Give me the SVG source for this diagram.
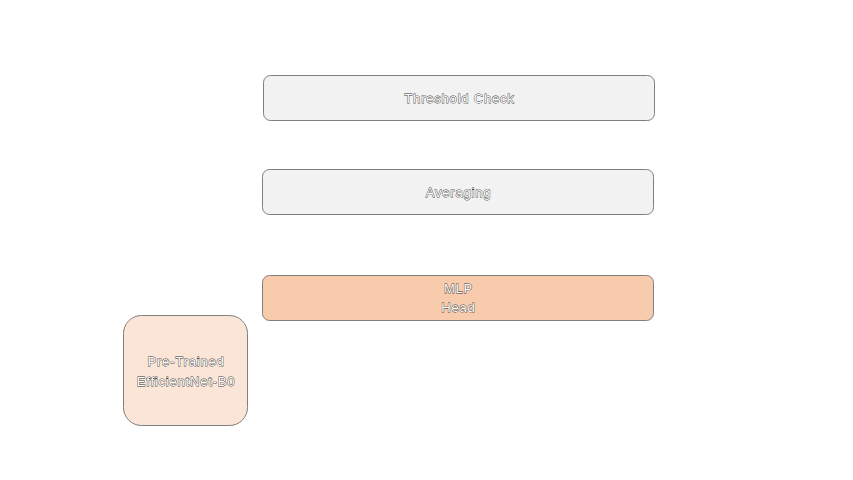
<svg xmlns="http://www.w3.org/2000/svg" width="853" height="480" viewBox="0 0 853 480">
<style>
.box{stroke:#7f7f7f;stroke-width:1}
.gray{fill:#f2f2f2}
.orange{fill:#f8cbad}
.light{fill:#fbe5d6}
.lbl{font-family:"Liberation Sans",Arial,sans-serif;font-size:13px;letter-spacing:0.8px;fill:#ffffff;stroke:#333333;stroke-width:0.8;paint-order:stroke;text-anchor:middle;dominant-baseline:central}
</style>
<rect width="853" height="480" fill="#ffffff"/>
<g id="connectors"></g>
<g id="threshold">
<rect class="box gray" x="263.5" y="75.5" width="391" height="45" rx="7"/>
<text class="lbl" x="459.5" y="98">Threshold Check</text>
</g>
<g id="averaging">
<rect class="box gray" x="262.5" y="169.5" width="391" height="45" rx="7"/>
<text class="lbl" x="458.5" y="192">Averaging</text>
</g>
<g id="mlp">
<rect class="box orange" x="262.5" y="275.5" width="391" height="45" rx="7"/>
<text class="lbl" x="458.5" y="288">MLP</text>
<text class="lbl" x="458.5" y="307">Head</text>
</g>
<g id="pretrained">
<rect class="box light" x="123.5" y="315.5" width="124" height="110" rx="18"/>
<text class="lbl" x="186" y="361">Pre-Trained</text>
<text class="lbl" x="186" y="381">EfficientNet-B0</text>
</g>
</svg>
